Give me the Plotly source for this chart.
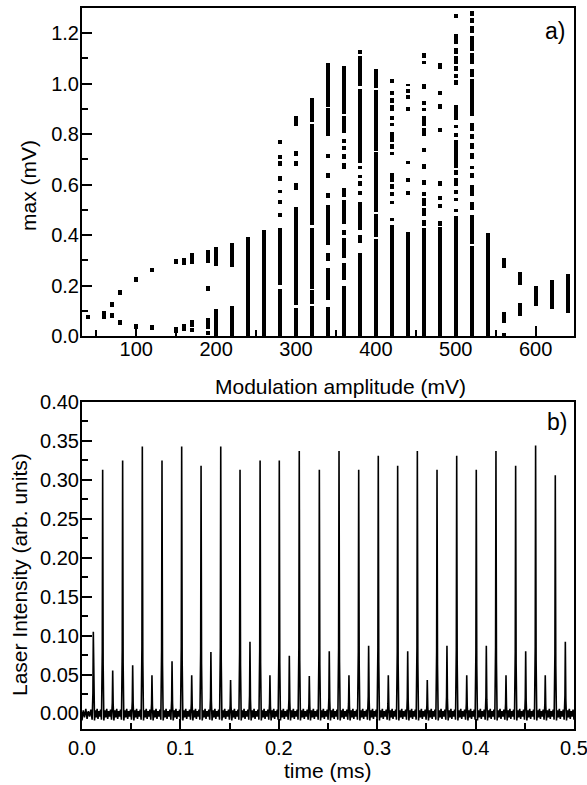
import plotly.graph_objects as go

# ---------------- panel a) data : max (mV) vs modulation amplitude ----------------
# each entry = one vertical run of points (low, high) at a given modulation amplitude
seg_amp = [40, 60, 70, 70, 80, 80, 100, 100, 120, 120, 150, 150, 160, 160,
           170, 170, 170, 190, 190, 190, 190, 200, 200, 220, 220, 240, 260,
           280, 280, 280, 280, 280, 280, 280, 280, 280,
           300, 300, 300, 300, 300, 300,
           320, 320, 320, 320, 320,
           340, 340, 340, 340, 340, 340, 340, 340, 340,
           360, 360, 360, 360, 360, 360, 360, 360, 360, 360, 360, 360,
           380, 380, 380, 380, 380, 380, 380, 380, 380, 380,
           400, 400, 400, 400, 400,
           420, 420, 420, 420, 420, 420, 420, 420, 420, 420, 420, 420, 420, 420, 420,
           440, 440, 440, 440, 440, 440, 440, 440,
           460, 460, 460, 460, 460, 460, 460, 460, 460, 460, 460, 460, 460, 460, 460,
           480, 480, 480, 480, 480, 480, 480, 480, 480,
           500, 500, 500, 500, 500, 500, 500, 500, 500, 500, 500, 500, 500, 500, 500, 500, 500,
           520, 520, 520, 520, 520, 520, 520, 520, 520, 520, 520, 520, 520, 520, 520, 520, 520,
           540, 560, 560, 560, 580, 580, 600, 620, 640]
seg_lo = [0.067, 0.066, 0.073, 0.113, 0.044, 0.163, 0.028, 0.215, 0.024, 0.252, 0.013, 0.287, 0.020, 0.280,
          0.015, 0.035, 0.287, 0.005, 0.028, 0.180, 0.290, 0.000, 0.278, 0.000, 0.272, 0.000, 0.000,
          0.000, 0.203, 0.472, 0.525, 0.565, 0.613, 0.673, 0.700, 0.759,
          0.000, 0.123, 0.578, 0.673, 0.712, 0.832,
          0.000, 0.126, 0.186, 0.438, 0.848,
          0.000, 0.142, 0.296, 0.360, 0.548, 0.627, 0.706, 0.792, 0.908,
          0.000, 0.220, 0.310, 0.400, 0.445, 0.550, 0.663, 0.703, 0.736, 0.766, 0.805, 0.878,
          0.000, 0.368, 0.420, 0.560, 0.594, 0.627, 0.660, 0.686, 0.990, 1.117,
          0.000, 0.392, 0.492, 0.735, 0.982,
          0.000, 0.455, 0.523, 0.554, 0.582, 0.612, 0.716, 0.740, 0.768, 0.832, 0.856, 0.892, 0.924, 0.957, 1.004,
          0.000, 0.560, 0.610, 0.680, 0.893, 0.940, 0.963, 0.990,
          0.000, 0.435, 0.477, 0.514, 0.554, 0.600, 0.663, 0.728, 0.792, 0.832, 0.892, 0.914, 0.978, 1.078, 1.100,
          0.000, 0.437, 0.507, 0.538, 0.593, 0.808, 0.900, 0.955, 1.060,
          0.000, 0.490, 0.534, 0.563, 0.593, 0.640, 0.666, 0.789, 0.825, 0.856, 0.994, 1.024, 1.050, 1.077, 1.117, 1.156, 1.259,
          0.000, 0.365, 0.500, 0.553, 0.627, 0.663, 0.703, 0.742, 0.780, 0.812, 0.870, 1.025, 1.080, 1.130, 1.200, 1.240, 1.270,
          0.000, 0.000, 0.050, 0.270, 0.080, 0.203, 0.119, 0.107, 0.090]
seg_hi = [0.085, 0.100, 0.093, 0.133, 0.062, 0.181, 0.048, 0.235, 0.044, 0.270, 0.036, 0.307, 0.046, 0.311,
          0.030, 0.064, 0.327, 0.020, 0.073, 0.198, 0.340, 0.106, 0.351, 0.120, 0.368, 0.391, 0.420,
          0.186, 0.430, 0.487, 0.540, 0.578, 0.633, 0.693, 0.716, 0.776,
          0.109, 0.511, 0.607, 0.693, 0.732, 0.870,
          0.120, 0.182, 0.430, 0.842, 0.945,
          0.116, 0.268, 0.328, 0.520, 0.566, 0.645, 0.720, 0.903, 1.084,
          0.200, 0.290, 0.390, 0.420, 0.538, 0.588, 0.686, 0.723, 0.752, 0.781, 0.872, 1.070,
          0.330, 0.400, 0.533, 0.573, 0.614, 0.640, 0.672, 0.978, 1.110, 1.134,
          0.385, 0.485, 0.728, 0.975, 1.060,
          0.440, 0.468, 0.536, 0.570, 0.603, 0.645, 0.728, 0.760, 0.808, 0.845, 0.872, 0.914, 0.944, 0.970, 1.020,
          0.414, 0.573, 0.627, 0.693, 0.907, 0.955, 0.980, 1.000,
          0.427, 0.458, 0.507, 0.547, 0.570, 0.620, 0.680, 0.745, 0.826, 0.870, 0.905, 0.930, 0.998, 1.090, 1.120,
          0.432, 0.454, 0.524, 0.555, 0.613, 0.825, 0.918, 0.970, 1.081,
          0.474, 0.503, 0.547, 0.580, 0.626, 0.657, 0.778, 0.805, 0.838, 0.914, 1.013, 1.040, 1.070, 1.110, 1.143, 1.196, 1.276,
          0.355, 0.478, 0.530, 0.600, 0.647, 0.673, 0.727, 0.765, 0.800, 0.845, 1.020, 1.060, 1.120, 1.190, 1.230, 1.260, 1.290,
          0.410, 0.012, 0.097, 0.310, 0.130, 0.255, 0.199, 0.223, 0.246]

# ---------------- panel b) data : laser intensity time trace ----------------
peak_t = [0.0115, 0.021, 0.0312, 0.0413, 0.0515, 0.0613, 0.0711, 0.0813, 0.0915, 0.1013,
          0.1115, 0.121, 0.131, 0.141, 0.151, 0.1606, 0.1707, 0.181, 0.191, 0.2005,
          0.2107, 0.2208, 0.231, 0.2412, 0.2513, 0.2612, 0.2713, 0.2812, 0.2913, 0.3011,
          0.3113, 0.3208, 0.331, 0.3408, 0.3509, 0.3608, 0.3709, 0.3808, 0.391, 0.4007,
          0.4109, 0.4207, 0.4309, 0.4407, 0.4509, 0.461, 0.4708, 0.481, 0.4912]
peak_h = [0.105, 0.313, 0.055, 0.325, 0.062, 0.343, 0.049, 0.325, 0.067, 0.343,
          0.049, 0.318, 0.079, 0.343, 0.043, 0.313, 0.092, 0.325, 0.049, 0.325,
          0.074, 0.337, 0.048, 0.313, 0.080, 0.337, 0.049, 0.313, 0.087, 0.331,
          0.049, 0.318, 0.080, 0.337, 0.043, 0.313, 0.087, 0.331, 0.049, 0.313,
          0.087, 0.337, 0.049, 0.318, 0.080, 0.344, 0.049, 0.306, 0.092]
# baseline wiggle read between spikes (noise band about -0.009 .. 0.007)
baseline_wiggle = [-0.009, 0.004, -0.005, 0.006, -0.007, 0.003, -0.004, 0.005, -0.008]

t_end = 0.5

# build trace points from the read values
tx, ty = [], []
prev = 0.0
for t, h in zip(peak_t + [t_end], peak_h + [None]):
    a = prev + 0.0012 if tx else prev
    b = t - 0.0012 if h is not None else t
    n = len(baseline_wiggle)
    for i, v in enumerate(baseline_wiggle):
        tx.append(a + (b - a) * i / (n - 1))
        ty.append(v)
    if h is not None:
        tx += [t - 0.0004, t, t + 0.0005]
        ty += [h * 0.25, h, h * 0.2]
    prev = t

FONT = "Liberation Sans, Arial, Helvetica, sans-serif"

fig = go.Figure()
fig.add_trace(go.Bar(
    x=seg_amp, base=seg_lo, y=[h - l for l, h in zip(seg_lo, seg_hi)],
    width=5, marker=dict(color="black", line=dict(width=0)),
    xaxis="x", yaxis="y", showlegend=False, hoverinfo="skip"))
fig.add_trace(go.Scatter(
    x=tx, y=ty, mode="lines", line=dict(color="black", width=1.6),
    xaxis="x2", yaxis="y2", showlegend=False, hoverinfo="skip"))

axis_common = dict(showline=True, linecolor="black", linewidth=2, mirror=True,
                   ticks="inside", ticklen=10, tickwidth=1.5, tickcolor="black",
                   showgrid=False, zeroline=False, automargin=False,
                   ticklabeloverflow="allow",
                   tickfont=dict(family=FONT, size=20, color="black"))

fig.update_layout(
    width=587, height=785,
    margin=dict(l=82, r=13, t=8, b=56, autoexpand=False),
    paper_bgcolor="white", plot_bgcolor="white",
    barmode="overlay", bargap=0,
    xaxis=dict(domain=[0, 1], anchor="y", range=[32, 648], dtick=100, tick0=0,
               ticklabelstandoff=-6,
               minor=dict(dtick=50, ticks="inside", ticklen=6, tickcolor="black", tickwidth=1.5),
               **axis_common),
    yaxis=dict(domain=[0.5451, 1], anchor="x", range=[0, 1.3], dtick=0.2, tick0=0,
               tickformat=".1f", ticklabelstandoff=-3,
               minor=dict(dtick=0.1, ticks="inside", ticklen=6, tickcolor="black", tickwidth=1.5),
               **axis_common),
    xaxis2=dict(domain=[0, 1], anchor="y2", range=[0, 0.50001], dtick=0.1, tick0=0,
                tickformat=".1f",
                minor=dict(dtick=0.05, ticks="inside", ticklen=6, tickcolor="black", tickwidth=1.5),
                **axis_common),
    yaxis2=dict(domain=[0, 0.4535], anchor="x2", range=[-0.02, 0.40], dtick=0.05, tick0=0,
                tickformat=".2f", ticklabelstandoff=-3,
                minor=dict(dtick=0.025, ticks="inside", ticklen=6, tickcolor="black", tickwidth=1.5),
                **axis_common),
)

ann_font = dict(family=FONT, size=21, color="black")
fig.add_annotation(text="max (mV)", x=-0.1098, y=0.7545, xref="paper", yref="paper",
                   textangle=-90, showarrow=False, font=ann_font, xanchor="center", yanchor="middle")
fig.add_annotation(text="Modulation amplitude (mV)", x=0.526, y=0.4757, xref="paper", yref="paper",
                   showarrow=False, font=ann_font, xanchor="center", yanchor="middle")
fig.add_annotation(text="Laser Intensity (arb. units)", x=-0.126, y=0.2136, xref="paper", yref="paper",
                   textangle=-90, showarrow=False, font=ann_font, xanchor="center", yanchor="middle")
fig.add_annotation(text="time (ms)", x=0.5, y=-0.058, xref="paper", yref="paper",
                   showarrow=False, font=ann_font, xanchor="center", yanchor="middle")
fig.add_annotation(text="a)", x=0.9614, y=0.968, xref="paper", yref="paper",
                   showarrow=False, font=dict(family=FONT, size=23, color="black"),
                   xanchor="center", yanchor="middle")
fig.add_annotation(text="b)", x=0.9654, y=0.4258, xref="paper", yref="paper",
                   showarrow=False, font=dict(family=FONT, size=23, color="black"),
                   xanchor="center", yanchor="middle")

fig.write_html(
    "out.html",
    config={"displayModeBar": False},
    post_script="document.body.style.margin='0';document.body.style.overflow='hidden';",
)
